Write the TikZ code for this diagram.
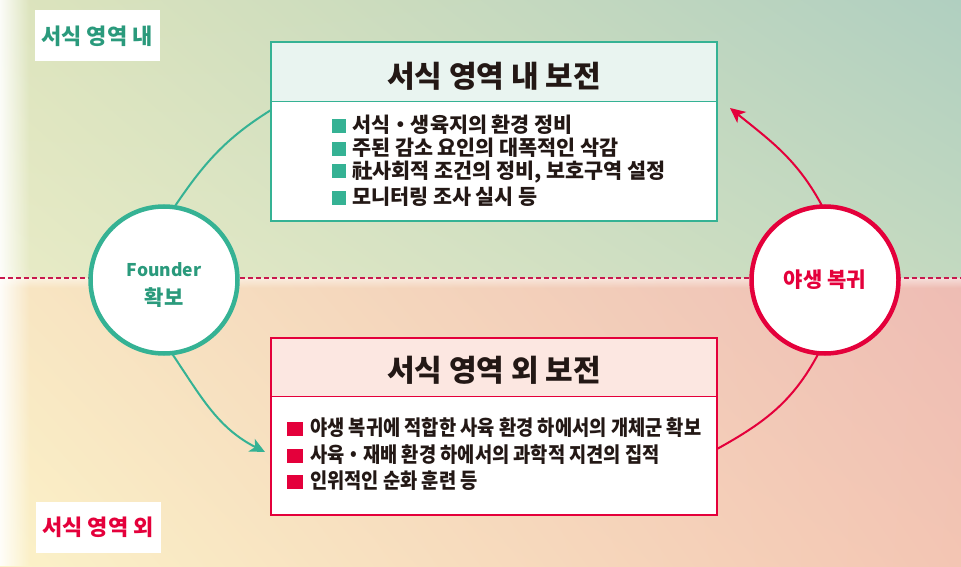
\documentclass[tikz,border=0pt]{standalone}
\usepackage{fontspec}
\setmainfont{Noto Sans CJK KR}
\usetikzlibrary{arrows.meta,fadings,calc,shadings}
\definecolor{teal1}{HTML}{35B294}
\definecolor{tealtxt}{HTML}{2A9A7C}
\definecolor{crim}{HTML}{E4003B}
\definecolor{dark}{HTML}{231815}
\definecolor{hdrG}{HTML}{E9F4F0}
\definecolor{hdrR}{HTML}{FCE7E1}
\definecolor{dashc}{HTML}{C8194E}
\definecolor{tUL}{HTML}{DDE4BD}
\definecolor{tUR}{HTML}{B0CFC0}
\definecolor{tLL}{HTML}{E8EBC6}
\definecolor{tLR}{HTML}{C3D9C0}
\definecolor{bUL}{HTML}{F8E6C2}
\definecolor{bUR}{HTML}{EEBCB4}
\definecolor{bLL}{HTML}{FBF2C8}
\definecolor{bLR}{HTML}{F3C5B3}
\tikzset{
  box/.style={draw, line width=2pt, fill=white, minimum width=446pt, outer sep=0pt, inner sep=0pt},
  ring/.style={circle, draw, line width=4.5pt, fill=white, minimum size=147pt, inner sep=0pt, outer sep=0pt, align=center},
  title/.style={font=\bfseries\fontsize{30pt}{34pt}\selectfont, text=dark},
  item/.style={anchor=west, font=\bfseries\fontsize{20.7pt}{24pt}\selectfont, text=dark, inner sep=0pt},
  corner/.style={fill=white, minimum width=125pt, minimum height=51pt, font=\bfseries\fontsize{22pt}{24pt}\selectfont},
  conn/.style={line width=2pt},
  tip/.style={-{Stealth[length=15pt,width=14pt,inset=4pt]}}
}
\newcommand{\gsq}{\raisebox{0pt}{\textcolor{teal1}{\rule{14pt}{14pt}}}\hspace{6pt}}
\newcommand{\rsq}{\raisebox{0pt}{\textcolor{crim}{\rule{16pt}{14pt}}}\hspace{7pt}}
\begin{document}
\begin{tikzpicture}[x=1pt,y=1pt]
\useasboundingbox (0,0) rectangle (961,566);
% background
\shade[upper left=tUL, upper right=tUR, lower left=tLL, lower right=tLR] (0,288) rectangle (961,566);
\shade[upper left=bUL, upper right=bUR, lower left=bLL, lower right=bLR] (0,0) rectangle (961,288);
\fill[white, path fading=east, opacity=0.9] (0,0) rectangle (30,566);
\fill[white, opacity=0.5, path fading=south] (0,288) rectangle (961,278);
\draw[dashc, line width=1.3pt, dash pattern=on 5pt off 3pt] (0,288) -- (961,288);
% corner labels
\node[corner, text=tealtxt] (lin) at (97,530) {서식 영역 내};
\node[corner, text=crim] (lout) at (98,39) {서식 영역 외};
% top box
\node[box, draw=teal1, minimum height=179pt] (top) at (494,434.5) {};
\fill[hdrG] ([shift={(1,-1)}]top.north west) rectangle ([shift={(-1,-60)}]top.north east);
\draw[teal1, line width=1pt] ([yshift=-60]top.north west) -- ([yshift=-60]top.north east);
\draw[teal1, line width=2pt] (top.north west) rectangle (top.south east);
\node[title] (ttitle) at (494,490) {서식 영역 내 보전};
\node[item] (t1) at (332,441) {\gsq 서식・생육지의 환경 정비};
\node[item] (t2) at (332,418) {\gsq 주된 감소 요인의 대폭적인 삭감};
\node[item] (t3) at (332,394) {\gsq 社사회적 조건의 정비, 보호구역 설정};
\node[item] (t4) at (332,369) {\gsq 모니터링 조사 실시 등};
% bottom box
\node[box, draw=crim, minimum height=177pt] (bot) at (494,139.5) {};
\fill[hdrR] ([shift={(1,-1)}]bot.north west) rectangle ([shift={(-1,-58)}]bot.north east);
\draw[crim, line width=1pt] ([yshift=-58]bot.north west) -- ([yshift=-58]bot.north east);
\draw[crim, line width=2pt] (bot.north west) rectangle (bot.south east);
\node[title] (btitle) at (494,196) {서식 영역 외 보전};
\node[item, font=\bfseries\fontsize{21pt}{24pt}\selectfont] (b1) at (287,138) {\rsq\scalebox{0.89}[1]{야생 복귀에 적합한 사육 환경 하에서의 개체군 확보}};
\node[item, font=\bfseries\fontsize{21pt}{24pt}\selectfont] (b2) at (287,111) {\rsq\scalebox{0.89}[1]{사육・재배 환경 하에서의 과학적 지견의 집적}};
\node[item, font=\bfseries\fontsize{21pt}{24pt}\selectfont] (b3) at (287,85) {\rsq\scalebox{0.89}[1]{인위적인 순화 훈련 등}};
% circles
\node[ring, draw=teal1] (f) at (164,286) {};
\node[text=tealtxt, align=center, font=\bfseries\fontsize{17.5pt}{29pt}\selectfont, inner sep=0pt] (ftext) at ([yshift=-5]f.center) {Founder\\{\fontsize{21pt}{29pt}\selectfont 확보}};
\node[ring, draw=crim, text=crim, font=\bfseries\fontsize{21pt}{24pt}\selectfont] (r) at (825,286) {야생 복귀};
% connectors
\coordinate (ftip) at ([shift={(-6,-25.5)}]bot.west);
\coordinate (rtip) at ([shift={(13,23.5)}]top.east);
\draw[conn, teal1] (f.82) to[out=56, in=212] ([yshift=21.5]top.west);
\draw[conn, teal1, tip] (f.-84) to[out=-56, in=153] (ftip);
\draw[conn, crim, tip] (r.92) to[out=118, in=-39] (rtip);
\draw[conn, crim] (r.-95) to[out=242, in=29] ([yshift=-22.5]bot.east);
\end{tikzpicture}
\end{document}
